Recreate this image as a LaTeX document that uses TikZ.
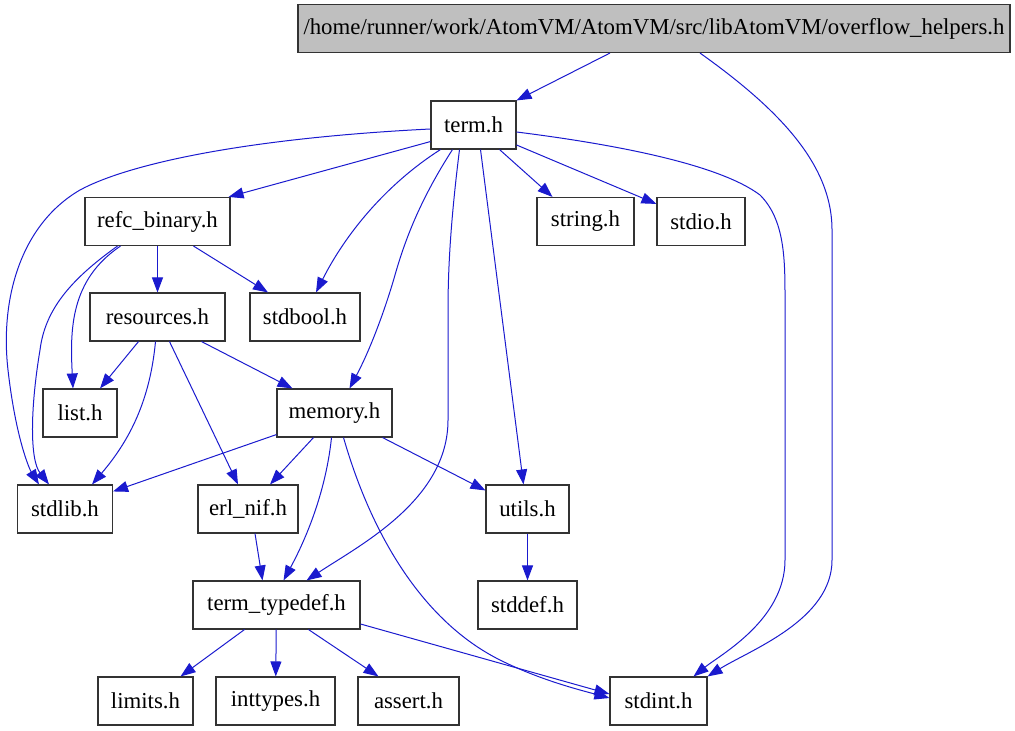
\documentclass[tikz,border=0pt]{standalone}
\usepackage{fontspec}
\setmainfont{Liberation Serif}
\usepackage{tikz}
\usetikzlibrary{arrows.meta, calc}

\definecolor{edgeblue}{RGB}{26,26,206}
\definecolor{rootgray}{RGB}{191,191,191}

\tikzset{
  hdr/.style={draw=black!80, line width=0.55pt, fill=white, inner xsep=0pt,
    inner ysep=0pt, minimum height=24pt, minimum width=#1,
    font=\fontsize{11.4}{14}\selectfont},
  roothdr/.style={hdr=#1, fill=rootgray},
  dep/.style={draw=edgeblue, line width=0.5pt,
    -{Triangle[length=7.5pt, width=5.5pt]}, fill=none},
}

\begin{document}
\begin{tikzpicture}[x=0.5pt, y=-0.5pt]
  \useasboundingbox (0,0) rectangle (1015,731);

  % header nodes, one row per rank
  \node[roothdr=356pt] (top) at (654,28.5) {/home/runner/work/AtomVM/AtomVM/src/libAtomVM/overflow\_helpers.h};
  \node[hdr=42.5pt] (term) at (473.5,125) {term.h};

  \node[hdr=72.5pt] (refc) at (157.5,221.5) {refc\_binary.h};
  \node[hdr=48.5pt] (stringh) at (585.5,221.5) {string.h};
  \node[hdr=44pt] (stdio) at (701,221.5) {stdio.h};

  \node[hdr=67.5pt] (resources) at (157.5,317) {resources.h};
  \node[hdr=55pt] (stdbool) at (305,317) {stdbool.h};

  \node[hdr=37pt] (list) at (80,413) {list.h};
  \node[hdr=57.5pt] (memory) at (334.5,413) {memory.h};

  \node[hdr=47.5pt] (stdlib) at (65,509) {stdlib.h};
  \node[hdr=50pt] (erlnif) at (248,509) {erl\_nif.h};
  \node[hdr=41.5pt] (utils) at (527.5,509) {utils.h};

  \node[hdr=83.5pt] (typedef) at (276.5,605) {term\_typedef.h};
  \node[hdr=49.5pt] (stddef) at (527.5,605) {stddef.h};

  \node[hdr=47.5pt] (limits) at (145.5,701) {limits.h};
  \node[hdr=59.5pt] (inttypes) at (275.5,701) {inttypes.h};
  \node[hdr=50.5pt] (assert) at (408.5,701) {assert.h};
  \node[hdr=48.5pt] (stdint) at (658.5,701) {stdint.h};

  % overflow_helpers.h
  \draw[dep] ($(top.south)+(-44,0)$) -- (term.north east);
  \draw[dep] ($(top.south)+(46,0)$) .. controls (780,110) and (832,165) .. (832,230)
    -- (832,560) .. controls (832,620) and (750,650) .. (stdint.north east);

  % term.h
  \draw[dep] ($(term.south west)+(0,-8)$) -- ($(refc.north east)+(-2,0)$);
  \draw[dep] ($(term.west)+(0,4)$) .. controls (250,138) and (130,163) .. (80,190)
    .. controls (20,225) and (0,300) .. (8,370)
    .. controls (16,440) and (30,470) .. ($(stdlib.north west)+(22,0)$);
  \draw[dep] ($(term.south)+(-33,0)$) .. controls (385,185) and (345,235) .. ($(stdbool.north)+(11,0)$);
  \draw[dep] ($(term.south)+(-21,0)$) .. controls (420,200) and (405,240) .. (395,275)
    .. controls (385,310) and (370,350) .. ($(memory.north)+(15,0)$);
  \draw[dep] ($(term.south)+(-14,0)$) .. controls (452,210) and (448,260) .. (448,310)
    -- (448,420) .. controls (448,500) and (360,545) .. ($(typedef.north)+(30,0)$);
  \draw[dep] ($(term.south)+(7,0)$) -- ($(utils.north)+(-4,0)$);
  \draw[dep] ($(term.south)+(26,0)$) -- ($(stringh.north)+(-33,0)$);
  \draw[dep] ($(term.east)+(0,20)$) -- ($(stdio.north west)+(0,7)$);
  \draw[dep] ($(term.east)+(0,7)$) .. controls (620,145) and (720,165) .. (760,195)
    .. controls (785,220) and (785,260) .. (785,300)
    -- (785,560) .. controls (785,620) and (720,655) .. ($(stdint.north)+(35,0)$);

  % refc_binary.h
  \draw[dep] (refc) -- (resources);
  \draw[dep] ($(refc.south)+(36,0)$) -- ($(stdbool.north)+(-37,0)$);
  \draw[dep] ($(refc.south)+(-37,0)$) .. controls (70,280) and (70,330) .. ($(list.north)+(-7,0)$);
  \draw[dep] ($(refc.south)+(-40,0)$) .. controls (70,280) and (45,310) .. (40,350)
    .. controls (30,410) and (30,460) .. ($(stdlib.north)+(-16,0)$);

  % resources.h
  \draw[dep] ($(resources.south)+(-19,0)$) -- ($(list.north)+(20,0)$);
  \draw[dep] ($(resources.south)+(-2,0)$) .. controls (150,400) and (130,440) .. ($(stdlib.north)+(27,0)$);
  \draw[dep] ($(resources.south)+(12,0)$) -- ($(erlnif.north)+(-10,0)$);
  \draw[dep] ($(resources.south)+(44,0)$) -- ($(memory.north)+(-42,0)$);

  % memory.h
  \draw[dep] ($(memory.south west)+(0,-3)$) -- ($(stdlib.north east)+(0,7)$);
  \draw[dep] ($(memory.south)+(-21,0)$) -- ($(erlnif.north)+(22,0)$);
  \draw[dep] ($(memory.south)+(-3,0)$) .. controls (325,500) and (300,550) .. ($(typedef.north)+(7,0)$);
  \draw[dep] ($(memory.south)+(9,0)$) .. controls (370,530) and (420,620) .. (500,660)
    .. controls (540,680) and (580,690) .. ($(stdint.west)+(0,-3)$);
  \draw[dep] ($(memory.south east)+(-10,0)$) -- ($(utils.north west)+(0,6)$);

  % erl_nif.h, utils.h
  \draw[dep] ($(erlnif.south)+(7,0)$) -- ($(typedef.north)+(-14,0)$);
  \draw[dep] (utils) -- (stddef);

  % term_typedef.h
  \draw[dep] ($(typedef.south)+(-32,0)$) -- ($(limits.north)+(35,0)$);
  \draw[dep] (typedef) -- (inttypes);
  \draw[dep] ($(typedef.south)+(32,0)$) -- ($(assert.north)+(-30,0)$);
  \draw[dep] ($(typedef.east)+(0,19)$) -- ($(stdint.west)+(0,-7)$);
\end{tikzpicture}
\end{document}
